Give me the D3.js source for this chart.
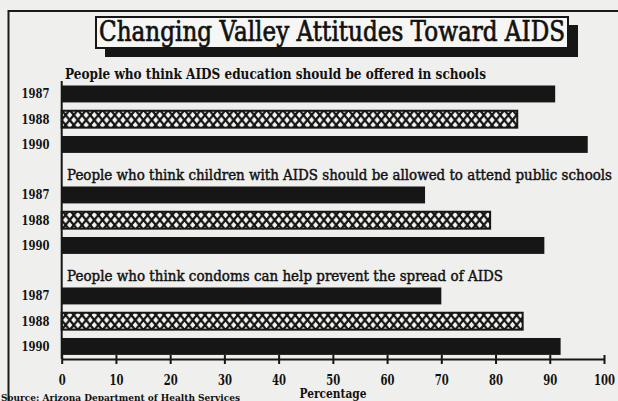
<!DOCTYPE html>
<html>
<head>
<meta charset="utf-8">
<script src="https://cdn.jsdelivr.net/npm/d3@7"></script>
<style>
  body { margin: 0; background: #efefed; }
  svg { display: block; }
</style>
</head>
<body>
<div id="app"></div>
<script>
// chart data
const title = "Changing Valley Attitudes Toward AIDS";
const questions = [
  "People who think AIDS education should be offered in schools",
  "People who think children with AIDS should be allowed to attend public schools",
  "People who think condoms can help prevent the spread of AIDS"
];
const years = ["1987", "1988", "1990"];
const educationValues = [91, 84, 97];
const childrenValues = [67, 79, 89];
const condomValues = [70, 85, 92];
const xTicks = [0, 10, 20, 30, 40, 50, 60, 70, 80, 90, 100];
const xLabel = "Percentage";
const source = "Source: Arizona Department of Health Services";

const seriesValues = [educationValues, childrenValues, condomValues];

var width = 618,
  height = 401;

let svg = d3
  .select("#app")
  .append("svg")
  .attr("width", width)
  .attr("height", height)
  .attr("style", "background-color:#efefed");

// crosshatch fill for the 1988 bars
let pat = svg
  .append("defs")
  .append("pattern")
  .attr("id", "hatch")
  .attr("patternUnits", "userSpaceOnUse")
  .attr("width", 8.2)
  .attr("height", 10);
pat.append("rect").attr("width", 8.2).attr("height", 10).attr("fill", "#161616");
pat
  .append("path")
  .attr("fill", "#f4f4f2")
  .attr("d", "M4.1,1.8 L6.7,5 L4.1,8.2 L1.5,5 Z M0,-3.2 L2.6,0 L0,3.2 L-2.6,0 Z M8.2,-3.2 L10.8,0 L8.2,3.2 L5.6,0 Z M0,6.8 L2.6,10 L0,13.2 L-2.6,10 Z M8.2,6.8 L10.8,10 L8.2,13.2 L5.6,10 Z");

// one row for each question label and each year bar
let rows = [];
questions.forEach((q, gi) => {
  rows.push({ type: "label", id: "q" + gi, text: q, g: gi });
  years.forEach((yr, yi) => {
    rows.push({ type: "bar", id: "q" + gi + "-" + yr, year: yr, yi: yi, value: seriesValues[gi][yi] });
  });
});

let x = d3.scaleLinear().domain([0, 100]).range([61.7, 604]);

let y = d3
  .scaleBand()
  .domain(rows.map((d) => d.id))
  .range([60.25, 354.9])
  .paddingInner(0.33)
  .paddingOuter(0);

// frame
svg
  .append("line")
  .attr("x1", 8).attr("x2", 618).attr("y1", 11).attr("y2", 11)
  .attr("stroke", "#1a1a1a").attr("stroke-width", 2);
svg
  .append("line")
  .attr("x1", 8.5).attr("x2", 8.5).attr("y1", 10).attr("y2", 401)
  .attr("stroke", "#1a1a1a").attr("stroke-width", 2);

// title box with drop shadow
svg
  .append("rect")
  .attr("x", 105).attr("y", 25).attr("width", 473).attr("height", 32)
  .attr("fill", "#161616");
svg
  .append("rect")
  .attr("x", 96).attr("y", 17).attr("width", 472).attr("height", 31)
  .attr("fill", "#f6f6f4")
  .attr("stroke", "#161616")
  .attr("stroke-width", 2);
svg
  .append("text")
  .attr("x", 99)
  .attr("y", 41)
  .attr("font-family", "DejaVu Serif")
  .attr("font-size", 27)
  .attr("fill", "#111")
  .attr("stroke", "#111")
  .attr("stroke-width", 0.7)
  .attr("textLength", 466)
  .attr("lengthAdjust", "spacingAndGlyphs")
  .text(title);

// question labels
const labelWidths = [421, 545, 436];
svg
  .append("g")
  .selectAll("text")
  .data(rows.filter((d) => d.type == "label"))
  .enter()
  .append("text")
  .attr("x", (d) => (d.g == 0 ? 65 : 67))
  .attr("y", (d) => y(d.id) + y.bandwidth() + 2)
  .attr("font-family", "DejaVu Serif")
  .attr("font-weight", (d) => (d.g == 0 ? "bold" : "normal"))
  .attr("font-size", 14)
  .attr("fill", "#111")
  .attr("stroke", "#111")
  .attr("stroke-width", (d) => (d.g == 0 ? 0 : 0.45))
  .attr("textLength", (d) => labelWidths[d.g])
  .attr("lengthAdjust", "spacingAndGlyphs")
  .text((d) => d.text);

// bars
let barRows = rows.filter((d) => d.type == "bar");
svg
  .append("g")
  .selectAll("rect")
  .data(barRows)
  .enter()
  .append("rect")
  .attr("x", x(0))
  .attr("y", (d) => y(d.id))
  .attr("width", (d) => x(d.value) - x(0))
  .attr("height", y.bandwidth())
  .attr("fill", (d) => (d.year == "1988" ? "url(#hatch)" : "#161616"))
  .attr("stroke", (d) => (d.year == "1988" ? "#161616" : "none"))
  .attr("stroke-width", 2);

// year labels
svg
  .append("g")
  .selectAll("text")
  .data(barRows)
  .enter()
  .append("text")
  .attr("x", 49.5)
  .attr("y", (d) => y(d.id) + y.bandwidth() / 2 + 4.5)
  .attr("text-anchor", "end")
  .attr("font-family", "DejaVu Serif")
  .attr("font-weight", "bold")
  .attr("font-size", 13)
  .attr("fill", "#111")
  .attr("textLength", 28)
  .attr("lengthAdjust", "spacingAndGlyphs")
  .text((d) => d.year);

// left axis line
svg
  .append("line")
  .attr("x1", x(0)).attr("x2", x(0))
  .attr("y1", 81).attr("y2", 359)
  .attr("stroke", "#161616").attr("stroke-width", 2);

// bottom axis
let xAxis = svg
  .append("g")
  .attr("transform", "translate(0, 359)")
  .call(d3.axisBottom(x).tickValues(xTicks).tickSizeInner(4).tickSizeOuter(0).tickPadding(12));

xAxis.select(".domain").attr("stroke", "#161616").attr("stroke-width", 2);
xAxis
  .selectAll(".tick line")
  .attr("y1", -4)
  .attr("y2", 5)
  .attr("stroke", "#161616")
  .attr("stroke-width", 2);
xAxis
  .selectAll(".tick text")
  .attr("font-family", "DejaVu Serif")
  .attr("font-weight", "bold")
  .attr("font-size", 14.5)
  .attr("fill", "#111")
  .attr("textLength", (d) => String(d).length * 7)
  .attr("lengthAdjust", "spacingAndGlyphs");

svg
  .append("text")
  .attr("x", 299.5)
  .attr("y", 398)
  .attr("font-family", "DejaVu Serif")
  .attr("font-weight", "bold")
  .attr("font-size", 12)
  .attr("fill", "#111")
  .attr("textLength", 67)
  .attr("lengthAdjust", "spacingAndGlyphs")
  .text(xLabel);

svg
  .append("text")
  .attr("x", 1)
  .attr("y", 401)
  .attr("font-family", "DejaVu Serif")
  .attr("font-weight", "bold")
  .attr("font-size", 8.5)
  .attr("fill", "#111")
  .attr("textLength", 239)
  .attr("lengthAdjust", "spacingAndGlyphs")
  .text(source);
</script>
</body>
</html>
